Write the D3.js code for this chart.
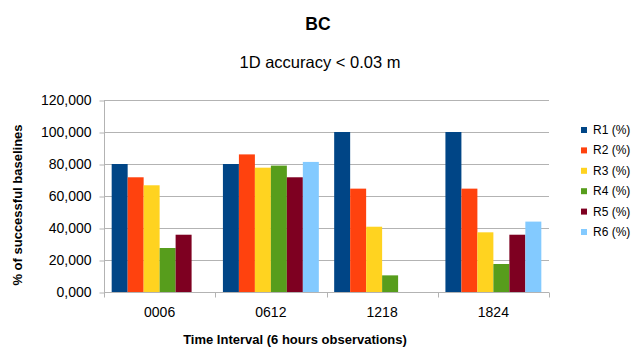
<!DOCTYPE html>
<html>
<head>
<meta charset="utf-8">
<script src="https://cdn.jsdelivr.net/npm/d3@7"></script>
<style>
  html, body { margin: 0; padding: 0; background: #fff; }
  svg { display: block; font-family: "Liberation Sans", Arial, sans-serif; }
</style>
</head>
<body>
<svg id="chart" width="637" height="347"></svg>
<script>
// Time intervals (x categories)
const categories = ["0006", "0612", "1218", "1824"];

// Series names and colours
const seriesNames = ["R1 (%)", "R2 (%)", "R3 (%)", "R4 (%)", "R5 (%)", "R6 (%)"];
const seriesColors = ["#004586", "#ff420e", "#ffd320", "#579d1c", "#7e0021", "#83caff"];

// Percentage of successful baselines per series, one value per interval
const r1 = [80.0, 80.0, 100.0, 100.0];
const r2 = [71.7, 86.0, 64.6, 64.6];
const r3 = [66.7, 77.7, 40.8, 37.3];
const r4 = [27.5, 79.0, 10.4, 17.5];
const r5 = [35.8, 71.7, 0, 35.8];
const r6 = [0, 81.3, 0, 44.0];
const seriesValues = [r1, r2, r3, r4, r5, r6];

// Value axis ticks
const yTicks = [0, 20, 40, 60, 80, 100, 120];

const svg = d3.select("#chart");
const plot = { left: 104, right: 549, top: 100, bottom: 292 };
const gridColor = "#b3b3b3";

const x0 = d3.scaleBand().domain(categories).range([plot.left, plot.right]).padding(0);
const x1 = d3.scaleBand().domain(seriesNames).range([0, x0.bandwidth()])
  .paddingInner(0).paddingOuter(0.48);
const y = d3.scaleLinear().domain([0, 120]).range([plot.bottom, plot.top]);

const locale = d3.formatLocale({ decimal: ",", thousands: ".", grouping: [3], currency: ["", ""] });
const fmt = locale.format(".3f");

// Horizontal gridlines
svg.append("g")
  .selectAll("line")
  .data(yTicks)
  .join("line")
  .attr("x1", plot.left).attr("x2", plot.right)
  .attr("y1", d => y(d) + 0.5).attr("y2", d => y(d) + 0.5)
  .attr("stroke", gridColor).attr("stroke-width", 1);

// Bars
const groups = svg.append("g")
  .selectAll("g")
  .data(categories)
  .join("g")
  .attr("transform", d => `translate(${x0(d)},0)`);

groups.selectAll("rect")
  .data((c, ci) => seriesNames.map((s, si) => ({ s, v: seriesValues[si][ci], color: seriesColors[si] })))
  .join("rect")
  .filter(d => d.v > 0)
  .attr("x", d => x1(d.s))
  .attr("width", x1.bandwidth())
  .attr("y", d => y(d.v))
  .attr("height", d => y(0) - y(d.v))
  .attr("fill", d => d.color);

// Y axis
const yAxis = svg.append("g")
  .attr("transform", `translate(${plot.left + 0.5},0)`)
  .call(d3.axisLeft(y).tickValues(yTicks).tickFormat(fmt).tickSize(5).tickPadding(8));
yAxis.select(".domain").attr("stroke", gridColor).attr("d", `M0,${plot.top}V${plot.bottom + 0.5}`);
yAxis.selectAll(".tick line").attr("stroke", gridColor).attr("transform", "translate(0,0.5)");
yAxis.selectAll(".tick text")
  .attr("font-size", 14).attr("fill", "#000")
  .style("font-family", "'Liberation Sans', Arial, sans-serif");

// X axis with ticks on band boundaries
const xAxis = svg.append("g")
  .attr("transform", `translate(0,${plot.bottom + 0.5})`);
xAxis.append("line")
  .attr("x1", plot.left).attr("x2", plot.right)
  .attr("stroke", gridColor);
xAxis.selectAll("line.tick")
  .data(categories.map(c => x0(c)).concat([plot.right]))
  .join("line")
  .attr("class", "tick")
  .attr("x1", d => Math.round(d) + 0.5).attr("x2", d => Math.round(d) + 0.5)
  .attr("y1", 0).attr("y2", 5)
  .attr("stroke", gridColor);
xAxis.selectAll("text")
  .data(categories)
  .join("text")
  .attr("x", d => x0(d) + x0.bandwidth() / 2)
  .attr("y", 24.5)
  .attr("text-anchor", "middle")
  .attr("font-size", 14)
  .attr("fill", "#000")
  .text(d => d);

// Titles
svg.append("text")
  .attr("x", 318).attr("y", 30)
  .attr("text-anchor", "middle")
  .attr("font-size", 17.5).attr("font-weight", "bold")
  .text("BC");
svg.append("text")
  .attr("x", 320).attr("y", 68)
  .attr("text-anchor", "middle")
  .attr("font-size", 16.5)
  .text("1D accuracy < 0.03 m");
svg.append("text")
  .attr("x", 295).attr("y", 344)
  .attr("text-anchor", "middle")
  .attr("font-size", 13).attr("font-weight", "bold")
  .text("Time Interval (6 hours observations)");
svg.append("text")
  .attr("transform", "translate(22,205) rotate(-90)")
  .attr("text-anchor", "middle")
  .attr("font-size", 13).attr("font-weight", "bold")
  .text("% of successful baselines");

// Legend
const legend = svg.append("g")
  .selectAll("g")
  .data(seriesNames)
  .join("g")
  .attr("transform", (d, i) => `translate(581,${130 + i * 20.4})`);
legend.append("rect")
  .attr("x", 0).attr("y", -3).attr("width", 6).attr("height", 6)
  .attr("fill", (d, i) => seriesColors[i]);
legend.append("text")
  .attr("x", 12).attr("y", 4)
  .attr("font-size", 12)
  .text(d => d);
</script>
</body>
</html>
